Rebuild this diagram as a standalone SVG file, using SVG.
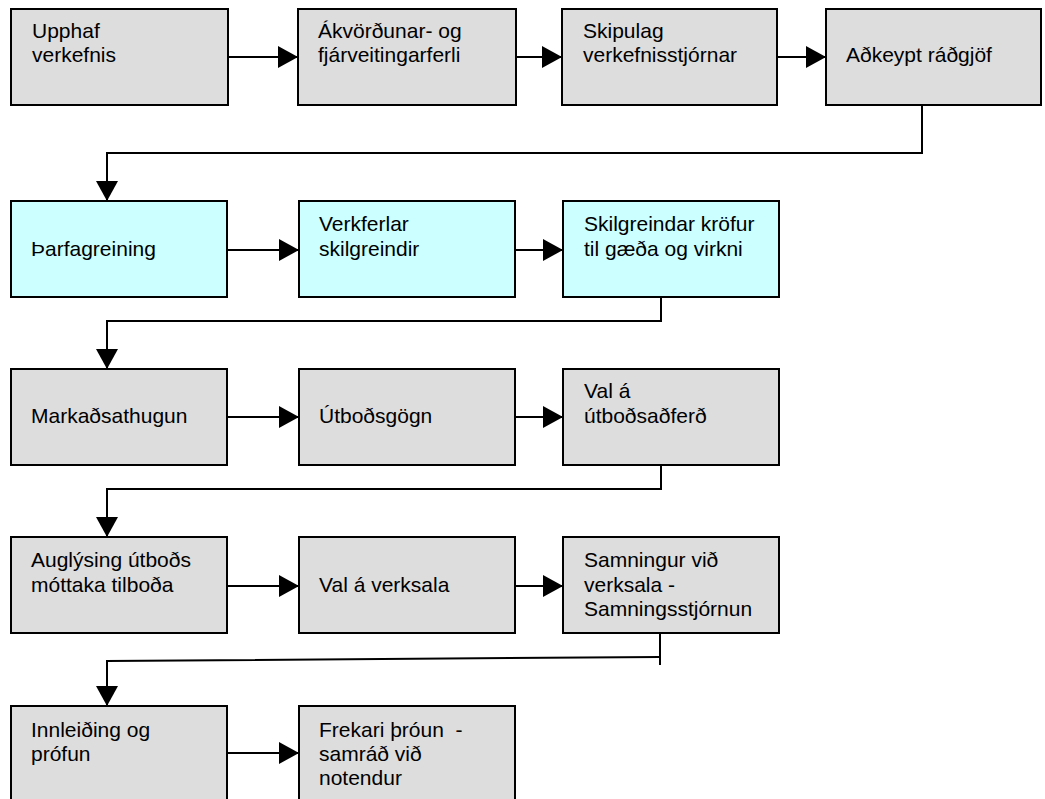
<svg xmlns="http://www.w3.org/2000/svg" width="1045" height="799" viewBox="0 0 1045 799">
<style>
.g{fill:#dddddd;stroke:#000;stroke-width:2}
.c{fill:#ccffff;stroke:#000;stroke-width:2}
text{font-family:"Liberation Sans",Arial,sans-serif;font-size:21px;fill:#000}
.ln{fill:none;stroke:#000;stroke-width:2}
</style>
<defs>
<marker id="ah" markerUnits="userSpaceOnUse" markerWidth="22" markerHeight="22" refX="20" refY="11" orient="auto">
<path d="M0,0 L20,11 L0,22 z" fill="#000"/>
</marker>
</defs>
<rect width="1045" height="799" fill="#fff"/>
<g id="connectors">
<line class="ln" x1="228" y1="57" x2="298" y2="57" marker-end="url(#ah)"/>
<line class="ln" x1="516" y1="57" x2="562" y2="57" marker-end="url(#ah)"/>
<line class="ln" x1="777" y1="57" x2="826" y2="57" marker-end="url(#ah)"/>
<polyline class="ln" points="922,105 922,153 107,153 107,201" marker-end="url(#ah)"/>
<line class="ln" x1="227" y1="250" x2="299" y2="250" marker-end="url(#ah)"/>
<line class="ln" x1="515" y1="250" x2="563" y2="250" marker-end="url(#ah)"/>
<polyline class="ln" points="661,297 661,321 107,321 107,369" marker-end="url(#ah)"/>
<line class="ln" x1="227" y1="417" x2="299" y2="417" marker-end="url(#ah)"/>
<line class="ln" x1="515" y1="417" x2="563" y2="417" marker-end="url(#ah)"/>
<polyline class="ln" points="661,465 661,489 107,489 107,537" marker-end="url(#ah)"/>
<line class="ln" x1="227" y1="586" x2="299" y2="586" marker-end="url(#ah)"/>
<line class="ln" x1="515" y1="586" x2="563" y2="586" marker-end="url(#ah)"/>
<line class="ln" x1="660" y1="633" x2="660" y2="665"/>
<polyline class="ln" points="660,657 107,661 107,706" marker-end="url(#ah)"/>
<line class="ln" x1="227" y1="753" x2="299" y2="753" marker-end="url(#ah)"/>
</g>
<g id="n1"><rect class="g" x="11" y="9" width="217" height="96"/><text x="32" y="38">Upphaf</text><text x="32" y="62">verkefnis</text></g>
<g id="n2"><rect class="g" x="298" y="9" width="218" height="96"/><text x="318" y="38">Ákvörðunar- og</text><text x="318" y="62">fjárveitingarferli</text></g>
<g id="n3"><rect class="g" x="562" y="9" width="215" height="96"/><text x="583" y="38">Skipulag</text><text x="583" y="62">verkefnisstjórnar</text></g>
<g id="n4"><rect class="g" x="826" y="9" width="215" height="96"/><text x="846" y="62">Aðkeypt ráðgjöf</text></g>
<g id="n5"><rect class="c" x="11" y="201" width="216" height="96"/><text x="31" y="256">Þarfagreining</text></g>
<g id="n6"><rect class="c" x="299" y="201" width="216" height="96"/><text x="319" y="231">Verkferlar</text><text x="319" y="256">skilgreindir</text></g>
<g id="n7"><rect class="c" x="563" y="201" width="216" height="96"/><text x="584" y="231">Skilgreindar kröfur</text><text x="584" y="256">til gæða og virkni</text></g>
<g id="n8"><rect class="g" x="11" y="369" width="216" height="96"/><text x="31" y="423">Markaðsathugun</text></g>
<g id="n9"><rect class="g" x="299" y="369" width="216" height="96"/><text x="319" y="423">Útboðsgögn</text></g>
<g id="n10"><rect class="g" x="563" y="369" width="216" height="96"/><text x="584" y="398">Val á</text><text x="584" y="423">útboðsaðferð</text></g>
<g id="n11"><rect class="g" x="11" y="537" width="216" height="96"/><text x="31" y="567">Auglýsing útboðs</text><text x="31" y="592">móttaka tilboða</text></g>
<g id="n12"><rect class="g" x="299" y="537" width="216" height="96"/><text x="319" y="592">Val á verksala</text></g>
<g id="n13"><rect class="g" x="563" y="537" width="216" height="96"/><text x="584" y="567">Samningur við</text><text x="584" y="592">verksala -</text><text x="584" y="616">Samningsstjórnun</text></g>
<g id="n14"><rect class="g" x="11" y="706" width="216" height="100"/><text x="31" y="737">Innleiðing og</text><text x="31" y="761">prófun</text></g>
<g id="n15"><rect class="g" x="299" y="706" width="216" height="100"/><text x="319" y="737" xml:space="preserve">Frekari þróun  -</text><text x="319" y="761">samráð við</text><text x="319" y="785">notendur</text></g>
</svg>
